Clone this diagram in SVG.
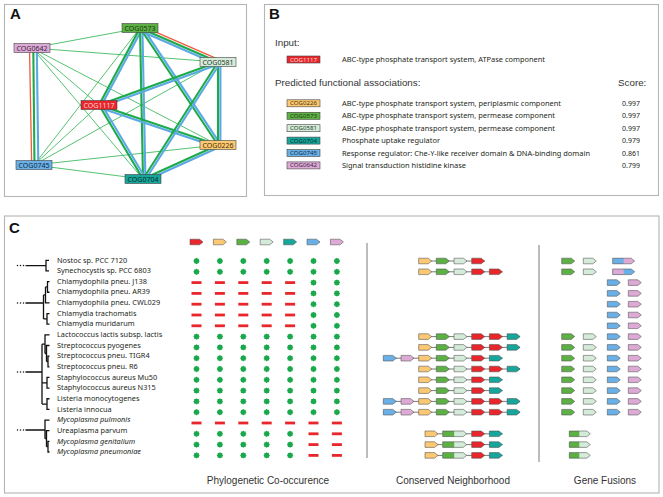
<svg xmlns="http://www.w3.org/2000/svg" xmlns:xlink="http://www.w3.org/1999/xlink" width="663" height="497" viewBox="0 0 663 497">
<style>
.pl{fill:#fff;stroke:#b5b5b5;stroke-width:1.1}
.lbl{font-family:"Liberation Sans",Arial,sans-serif;font-weight:bold;font-size:15px;fill:#111}
.hd{font-family:"Liberation Sans",Arial,sans-serif;font-size:9.8px;fill:#333}
.cap{font-family:"Liberation Sans",Arial,sans-serif;font-size:10px;fill:#333;text-anchor:middle}
.sm{font-family:"Noto Sans","Open Sans",sans-serif;font-size:7px;fill:#231f20}
.sp{font-family:"Noto Sans","Open Sans",sans-serif;font-size:7.35px;fill:#231f20}
.it{font-style:italic}
.nt{font-family:"Noto Sans","Open Sans",sans-serif;font-size:7.4px;text-anchor:middle}
.bt{font-family:"Noto Sans","Open Sans",sans-serif;font-size:5.8px;text-anchor:middle}
.nb{stroke:#444;stroke-width:0.6}
.tn{stroke:#2bb24c;stroke-width:0.8;fill:none}
.tg{stroke:#1daa4b;stroke-width:2.1;fill:none}
.tb{stroke:#5aa8e4;stroke-width:2.1;fill:none}
.tr{stroke:#f15a3a;stroke-width:1.3;fill:none}
.ar{stroke:#4d4d4d;stroke-width:0.55}
.ol{fill:none;stroke:#4d4d4d;stroke-width:0.55}
.cR{fill:#e8262b}.cY{fill:#fcc874}.cG{fill:#5cb044}.cM{fill:#d4ebd9}.cT{fill:#17a69b}.cB{fill:#6ab0e6}.cP{fill:#ddaad6}
.st{fill:#19a94b}
.ds{fill:#e8262b}
.gl{stroke:#6b6b6b;stroke-width:0.9}
.tree{fill:none;stroke:#111;stroke-width:1.3}
.dv{stroke:#7a7a7a;stroke-width:1}
</style>
<defs>
<path id="ar" d="M0,-2.8H9.5L13,0L9.5,2.8H0Z"/>
<path id="f24" d="M0,-2.8H20.5L24,0L20.5,2.8H0Z"/>
<path id="f22" d="M0,-2.8H18.5L22,0L18.5,2.8H0Z"/>
<path id="f21" d="M0,-2.8H17.5L21,0L17.5,2.8H0Z"/>
<path id="s" class="st" d="M3.2,0L2.4,1L2.3,2.3L1,2.4L0,3.2L-1,2.4L-2.3,2.3L-2.4,1L-3.2,0L-2.4,-1L-2.3,-2.3L-1,-2.4L0,-3.2L1,-2.4L2.3,-2.3L2.4,-1Z"/>
<rect id="d" class="ds" x="-5" y="-1.4" width="10" height="2.8"/>
<g id="colA">
<use href="#s" y="261"/><use href="#s" y="271.8"/>
<use href="#d" y="282.6"/><use href="#d" y="293.4"/><use href="#d" y="304.2"/><use href="#d" y="315"/><use href="#d" y="325.8"/>
<use href="#s" y="336.6"/><use href="#s" y="347.4"/><use href="#s" y="358.2"/><use href="#s" y="369"/><use href="#s" y="379.8"/><use href="#s" y="390.6"/><use href="#s" y="401.4"/><use href="#s" y="412.2"/>
<use href="#d" y="423"/>
<use href="#s" y="433.8"/><use href="#s" y="444.6"/><use href="#s" y="455.4"/>
</g>
<g id="colB">
<use href="#s" y="261"/><use href="#s" y="271.8"/><use href="#s" y="282.6"/><use href="#s" y="293.4"/><use href="#s" y="304.2"/><use href="#s" y="315"/><use href="#s" y="325.8"/>
<use href="#s" y="336.6"/><use href="#s" y="347.4"/><use href="#s" y="358.2"/><use href="#s" y="369"/><use href="#s" y="379.8"/><use href="#s" y="390.6"/><use href="#s" y="401.4"/><use href="#s" y="412.2"/>
<use href="#d" y="423"/><use href="#d" y="433.8"/><use href="#d" y="444.6"/><use href="#d" y="455.4"/>
</g>
<g id="nb5">
<use href="#ar" class="ar cY" x="418.7"/><use href="#ar" class="ar cG" x="436.3"/><use href="#ar" class="ar cM" x="454"/><use href="#ar" class="ar cR" x="471.7"/>
</g>
<g id="gm">
<use href="#ar" class="ar cG" x="561.7"/><use href="#ar" class="ar cM" x="583.3"/>
</g>
<g id="bp">
<use href="#ar" class="ar cB" x="607.3"/><use href="#ar" class="ar cP" x="628.3"/>
</g>
<g id="nfus">
<line class="gl" x1="425" y1="0" x2="502.4" y2="0"/>
<use href="#ar" class="ar cY" x="425"/>
<use href="#f24" class="cM" x="442.7"/><rect class="cG" x="442.7" y="-2.8" width="11.5" height="5.6"/><use href="#f24" class="ol" x="442.7"/>
<use href="#ar" class="ar cR" x="471.7"/><use href="#ar" class="ar cT" x="489.4"/>
</g>
<g id="gfus">
<use href="#f21" class="cM" x="569.3"/><rect class="cG" x="569.3" y="-2.8" width="10" height="5.6"/><use href="#f21" class="ol" x="569.3"/>
</g>
</defs>

<rect width="663" height="497" fill="#fff"/>

<!-- Panel A -->
<g id="panelA">
<rect class="pl" x="4.5" y="4.5" width="242" height="192"/>
<text class="lbl" x="10" y="19">A</text>
</g>
<g id="connectors">
<line class="tn" x1="32" y1="48" x2="140" y2="28"/>
<line class="tn" x1="32" y1="48" x2="218" y2="62"/>
<line class="tn" x1="32" y1="48" x2="99" y2="105"/>
<line class="tn" x1="32" y1="48" x2="218" y2="145"/>
<line class="tn" x1="32" y1="48" x2="143" y2="179"/>
<line class="tn" x1="34" y1="165" x2="140" y2="28"/>
<line class="tn" x1="34" y1="165" x2="218" y2="62"/>
<line class="tn" x1="34" y1="165" x2="99" y2="105"/>
<line class="tn" x1="34" y1="165" x2="218" y2="145"/>
<line class="tn" x1="34" y1="165" x2="143" y2="179"/>

<line class="tb" x1="142.1" y1="29.1" x2="101.1" y2="106.1"/>
<line class="tg" x1="140" y1="28" x2="99" y2="105"/>
<line class="tb" x1="142.4" y1="28" x2="145.4" y2="179"/>
<line class="tg" x1="140" y1="28" x2="143" y2="179"/>
<line class="tb" x1="142" y1="26.7" x2="220" y2="143.7"/>
<line class="tg" x1="140" y1="28" x2="218" y2="145"/>
<line class="tr" x1="141" y1="25.6" x2="219" y2="59.6"/>
<line class="tb" x1="139" y1="30.2" x2="217" y2="64.2"/>
<line class="tg" x1="140" y1="28" x2="218" y2="62"/>
<line class="tb" x1="99.8" y1="107.3" x2="218.8" y2="64.3"/>
<line class="tg" x1="99" y1="105" x2="218" y2="62"/>
<line class="tb" x1="98.2" y1="107.3" x2="217.2" y2="147.3"/>
<line class="tg" x1="99" y1="105" x2="218" y2="145"/>
<line class="tb" x1="101.1" y1="103.8" x2="145.1" y2="177.8"/>
<line class="tg" x1="99" y1="105" x2="143" y2="179"/>
<line class="tb" x1="220.4" y1="62" x2="220.4" y2="145"/>
<line class="tg" x1="218" y1="62" x2="218" y2="145"/>
<line class="tb" x1="220" y1="63.3" x2="145" y2="180.3"/>
<line class="tg" x1="218" y1="62" x2="143" y2="179"/>
<line class="tb" x1="219" y1="147.2" x2="144" y2="181.2"/>
<line class="tg" x1="218" y1="145" x2="143" y2="179"/>
<line class="tr" x1="29.5" y1="48" x2="31.7" y2="165"/>
<line class="tg" x1="33.3" y1="48" x2="34.5" y2="165"/>
<line class="tb" x1="36.8" y1="48" x2="38.3" y2="165"/>
</g>

<g id="COG0573"><rect class="nb cG" x="122" y="23.5" width="36" height="9"/><text class="nt" x="140" y="30.7" fill="#1f3a14" textLength="31" lengthAdjust="spacingAndGlyphs">COG0573</text></g>
<g id="COG0642"><rect class="nb cP" x="14" y="43.5" width="36" height="9"/><text class="nt" x="32" y="50.7" fill="#3d2440" textLength="31" lengthAdjust="spacingAndGlyphs">COG0642</text></g>
<g id="COG0581"><rect class="nb cM" x="200" y="57.5" width="36" height="9"/><text class="nt" x="218" y="64.7" fill="#2a3a2c" textLength="31" lengthAdjust="spacingAndGlyphs">COG0581</text></g>
<g id="COG1117"><rect class="nb cR" x="81" y="100.5" width="36" height="9"/><text class="nt" x="99" y="107.7" fill="#ffd6d6" textLength="31" lengthAdjust="spacingAndGlyphs">COG1117</text></g>
<g id="COG0226"><rect class="nb cY" x="200" y="140.5" width="36" height="9"/><text class="nt" x="218" y="147.7" fill="#4a3000" textLength="31" lengthAdjust="spacingAndGlyphs">COG0226</text></g>
<g id="COG0745"><rect class="nb cB" x="16" y="160.5" width="36" height="9"/><text class="nt" x="34" y="167.7" fill="#102a40" textLength="31" lengthAdjust="spacingAndGlyphs">COG0745</text></g>
<g id="COG0704"><rect class="nb cT" x="125" y="174.5" width="36" height="9"/><text class="nt" x="143" y="181.7" fill="#05302c" textLength="31" lengthAdjust="spacingAndGlyphs">COG0704</text></g>

<!-- Panel B -->
<g id="panelB">
<rect class="pl" x="264.5" y="4.5" width="394" height="191"/>
<text class="lbl" x="269" y="19">B</text>
<text class="hd" x="275" y="45.5">Input:</text>
<rect class="nb cR" x="287" y="56" width="33" height="7"/><text class="bt" x="303.5" y="61.5" fill="#ffd6d6" textLength="27" lengthAdjust="spacingAndGlyphs">COG1117</text>
<text class="sm" x="342" y="61.8" textLength="203" lengthAdjust="spacingAndGlyphs">ABC-type phosphate transport system, ATPase component</text>
<text class="hd" x="275" y="85.5">Predicted functional associations:</text>
<text class="hd" x="618" y="85.5">Score:</text>

<rect class="nb cY" x="287" y="99.8" width="33" height="7"/><text class="bt" x="303.5" y="105.3" fill="#4a3000" textLength="27" lengthAdjust="spacingAndGlyphs">COG0226</text>
<text class="sm" x="342" y="105.8" textLength="219" lengthAdjust="spacingAndGlyphs">ABC-type phosphate transport system, periplasmic component</text>
<text class="sm" x="622" y="105.8">0.997</text>

<rect class="nb cG" x="287" y="112.3" width="33" height="7"/><text class="bt" x="303.5" y="117.8" fill="#1f3a14" textLength="27" lengthAdjust="spacingAndGlyphs">COG0573</text>
<text class="sm" x="342" y="118.3" textLength="213" lengthAdjust="spacingAndGlyphs">ABC-type phosphate transport system, permease component</text>
<text class="sm" x="622" y="118.3">0.997</text>

<rect class="nb cM" x="287" y="124.7" width="33" height="7"/><text class="bt" x="303.5" y="130.2" fill="#2a3a2c" textLength="27" lengthAdjust="spacingAndGlyphs">COG0581</text>
<text class="sm" x="342" y="130.7" textLength="213" lengthAdjust="spacingAndGlyphs">ABC-type phosphate transport system, permease component</text>
<text class="sm" x="622" y="130.7">0.997</text>

<rect class="nb cT" x="287" y="137.1" width="33" height="7"/><text class="bt" x="303.5" y="142.6" fill="#05302c" textLength="27" lengthAdjust="spacingAndGlyphs">COG0704</text>
<text class="sm" x="342" y="143.1" textLength="98" lengthAdjust="spacingAndGlyphs">Phosphate uptake regulator</text>
<text class="sm" x="622" y="143.1">0.979</text>

<rect class="nb cB" x="287" y="149.5" width="33" height="7"/><text class="bt" x="303.5" y="155" fill="#102a40" textLength="27" lengthAdjust="spacingAndGlyphs">COG0745</text>
<text class="sm" x="342" y="155.5" textLength="248" lengthAdjust="spacingAndGlyphs">Response regulator: Che-Y-like receiver domain &amp; DNA-binding domain</text>
<text class="sm" x="622" y="155.5">0.861</text>

<rect class="nb cP" x="287" y="161.9" width="33" height="7"/><text class="bt" x="303.5" y="167.4" fill="#3d2440" textLength="27" lengthAdjust="spacingAndGlyphs">COG0642</text>
<text class="sm" x="342" y="167.9" textLength="124" lengthAdjust="spacingAndGlyphs">Signal transduction histidine kinase</text>
<text class="sm" x="622" y="167.9">0.799</text>
</g>

<!-- Panel C -->
<g id="panelC">
<rect class="pl" x="4.5" y="216" width="654.5" height="277"/>
<text class="lbl" x="9" y="233">C</text>
<line class="dv" x1="367" y1="243" x2="367" y2="458"/>
<line class="dv" x1="539" y1="245" x2="539" y2="462"/>
<text class="cap" x="268" y="484">Phylogenetic Co-occurence</text>
<text class="cap" x="453" y="484">Conserved Neighborhood</text>
<text class="cap" x="605" y="484">Gene Fusions</text>
</g>

<g id="tree">
<g fill="#111">
<circle cx="17.5" cy="265.6" r="0.75"/><circle cx="20.5" cy="265.6" r="0.75"/><circle cx="23.5" cy="265.6" r="0.75"/>
<circle cx="17.5" cy="303" r="0.75"/><circle cx="20.5" cy="303" r="0.75"/><circle cx="23.5" cy="303" r="0.75"/>
<circle cx="17.5" cy="372" r="0.75"/><circle cx="20.5" cy="372" r="0.75"/><circle cx="23.5" cy="372" r="0.75"/>
<circle cx="17.5" cy="430" r="0.75"/><circle cx="20.5" cy="430" r="0.75"/><circle cx="23.5" cy="430" r="0.75"/>
</g>
<path class="tree" d="M25.5,265.6H46M49,260.3H46V270.95H49"/>
<path class="tree" d="M49.5,281.6H47.5V292.25H49.5M47.5,286.9H45.5M45.5,286.9V302.9H49.5M45.5,294.9H43.5M49.5,313.55H47V324.2H49.5M47,318.9H43.5M43.5,294.9V318.9M25.5,303H43.5"/>
<path class="tree" d="M49.5,356.15H48V366.8H49.5M48,361.5H46.5M49.5,345.5H46.5V361.5M46.5,353.5H45M49.5,334.85H45V353.5M45,344.2H42M49.5,377.45H47V388.1H49.5M47,382.8H42M49.5,398.75H47V409.4H49.5M47,404.1H42M42,344.2V404.1M25.5,372H42"/>
<path class="tree" d="M49.5,441.35H48V452H49.5M48,446.7H46.5M49.5,430.7H46.5V446.7M46.5,438.7H45M49.5,420.05H45V438.7M25.5,430H45"/>
</g>

<g id="species">
<text class="sp" x="57" y="262.5">Nostoc sp. PCC 7120</text>
<text class="sp" x="57" y="273.15">Synechocystis sp. PCC 6803</text>
<text class="sp" x="57" y="283.8">Chlamydophila pneu. J138</text>
<text class="sp" x="57" y="294.45">Chlamydophila pneu. AR39</text>
<text class="sp" x="57" y="305.1">Chlamydophila pneu. CWL029</text>
<text class="sp" x="57" y="315.75">Chlamydia trachomatis</text>
<text class="sp" x="57" y="326.4">Chlamydia muridarum</text>
<text class="sp" x="57" y="337.05">Lactococcus lactis subsp. lactis</text>
<text class="sp" x="57" y="347.7">Streptococcus pyogenes</text>
<text class="sp" x="57" y="358.35">Streptococcus pneu. TIGR4</text>
<text class="sp" x="57" y="369">Streptococcus pneu. R6</text>
<text class="sp" x="57" y="379.65">Staphylococcus aureus Mu50</text>
<text class="sp" x="57" y="390.3">Staphylococcus aureus N315</text>
<text class="sp" x="57" y="400.95">Listeria monocytogenes</text>
<text class="sp" x="57" y="411.6">Listeria innocua</text>
<text class="sp it" x="57" y="422.25">Mycoplasma pulmonis</text>
<text class="sp" x="57" y="432.9">Ureaplasma parvum</text>
<text class="sp it" x="57" y="443.55">Mycoplasma genitalium</text>
<text class="sp it" x="57" y="454.2">Mycoplasma pneumoniae</text>
</g>

<g id="phylo">
<use href="#ar" class="ar cR" x="190" y="242"/>
<use href="#ar" class="ar cY" x="213.4" y="242"/>
<use href="#ar" class="ar cG" x="236.8" y="242"/>
<use href="#ar" class="ar cM" x="260.2" y="242"/>
<use href="#ar" class="ar cT" x="283.6" y="242"/>
<use href="#ar" class="ar cB" x="307" y="242"/>
<use href="#ar" class="ar cP" x="330.4" y="242"/>
<use href="#colA" x="196.5"/>
<use href="#colA" x="219.9"/>
<use href="#colA" x="243.3"/>
<use href="#colA" x="266.7"/>
<use href="#colA" x="290.1"/>
<use href="#colB" x="313.5"/>
<use href="#colB" x="336.9"/>
</g>

<g id="neighborhood">
<g transform="translate(0,261)"><line class="gl" x1="418.7" y1="0" x2="484.7" y2="0"/><use href="#nb5"/></g>
<g transform="translate(0,271.8)"><line class="gl" x1="418.7" y1="0" x2="502.4" y2="0"/><use href="#nb5"/><use href="#ar" class="ar cR" x="489.4"/></g>
<g transform="translate(0,336.6)"><line class="gl" x1="418.7" y1="0" x2="520.1" y2="0"/><use href="#nb5"/><use href="#ar" class="ar cR" x="489.4"/><use href="#ar" class="ar cT" x="507.1"/></g>
<g transform="translate(0,347.4)"><line class="gl" x1="418.7" y1="0" x2="520.1" y2="0"/><use href="#nb5"/><use href="#ar" class="ar cR" x="489.4"/><use href="#ar" class="ar cT" x="507.1"/></g>
<g transform="translate(0,358.2)"><line class="gl" x1="383.3" y1="0" x2="502.4" y2="0"/><use href="#ar" class="ar cB" x="383.3"/><use href="#ar" class="ar cP" x="401"/><use href="#nb5"/><use href="#ar" class="ar cT" x="489.4"/></g>
<g transform="translate(0,369)"><line class="gl" x1="418.7" y1="0" x2="520.1" y2="0"/><use href="#nb5"/><use href="#ar" class="ar cR" x="489.4"/><use href="#ar" class="ar cT" x="507.1"/></g>
<g transform="translate(0,379.8)"><line class="gl" x1="418.7" y1="0" x2="502.4" y2="0"/><use href="#nb5"/><use href="#ar" class="ar cT" x="489.4"/></g>
<g transform="translate(0,390.6)"><line class="gl" x1="418.7" y1="0" x2="502.4" y2="0"/><use href="#nb5"/><use href="#ar" class="ar cT" x="489.4"/></g>
<g transform="translate(0,401.4)"><line class="gl" x1="383.3" y1="0" x2="520.1" y2="0"/><use href="#ar" class="ar cB" x="383.3"/><use href="#ar" class="ar cP" x="401"/><use href="#nb5"/><use href="#ar" class="ar cR" x="489.4"/><use href="#ar" class="ar cT" x="507.1"/></g>
<g transform="translate(0,412.2)"><line class="gl" x1="383.3" y1="0" x2="520.1" y2="0"/><use href="#ar" class="ar cB" x="383.3"/><use href="#ar" class="ar cP" x="401"/><use href="#nb5"/><use href="#ar" class="ar cR" x="489.4"/><use href="#ar" class="ar cT" x="507.1"/></g>
<use href="#nfus" y="433.8"/>
<use href="#nfus" y="444.6"/>
<use href="#nfus" y="455.4"/>
</g>

<g id="fusions">
<g transform="translate(0,261)"><use href="#gm"/><use href="#f22" class="cP" x="612.7"/><rect class="cB" x="612.7" y="-2.8" width="11" height="5.6"/><use href="#f22" class="ol" x="612.7"/></g>
<g transform="translate(0,271.8)"><use href="#gm"/><use href="#f22" class="cB" x="612.7"/><rect class="cP" x="612.7" y="-2.8" width="11" height="5.6"/><use href="#f22" class="ol" x="612.7"/></g>
<use href="#bp" y="282.6"/>
<use href="#bp" y="293.4"/>
<use href="#bp" y="304.2"/>
<use href="#bp" y="315"/>
<use href="#bp" y="325.8"/>
<g transform="translate(0,336.6)"><use href="#gm"/><use href="#bp"/></g>
<g transform="translate(0,347.4)"><use href="#gm"/><use href="#bp"/></g>
<g transform="translate(0,358.2)"><use href="#gm"/><use href="#bp"/></g>
<g transform="translate(0,369)"><use href="#gm"/><use href="#bp"/></g>
<g transform="translate(0,379.8)"><use href="#gm"/><use href="#bp"/></g>
<g transform="translate(0,390.6)"><use href="#gm"/><use href="#bp"/></g>
<g transform="translate(0,401.4)"><use href="#gm"/><use href="#bp"/></g>
<g transform="translate(0,412.2)"><use href="#gm"/><use href="#bp"/></g>
<use href="#gfus" y="433.8"/>
<use href="#gfus" y="444.6"/>
<use href="#gfus" y="455.4"/>
</g>
</svg>
